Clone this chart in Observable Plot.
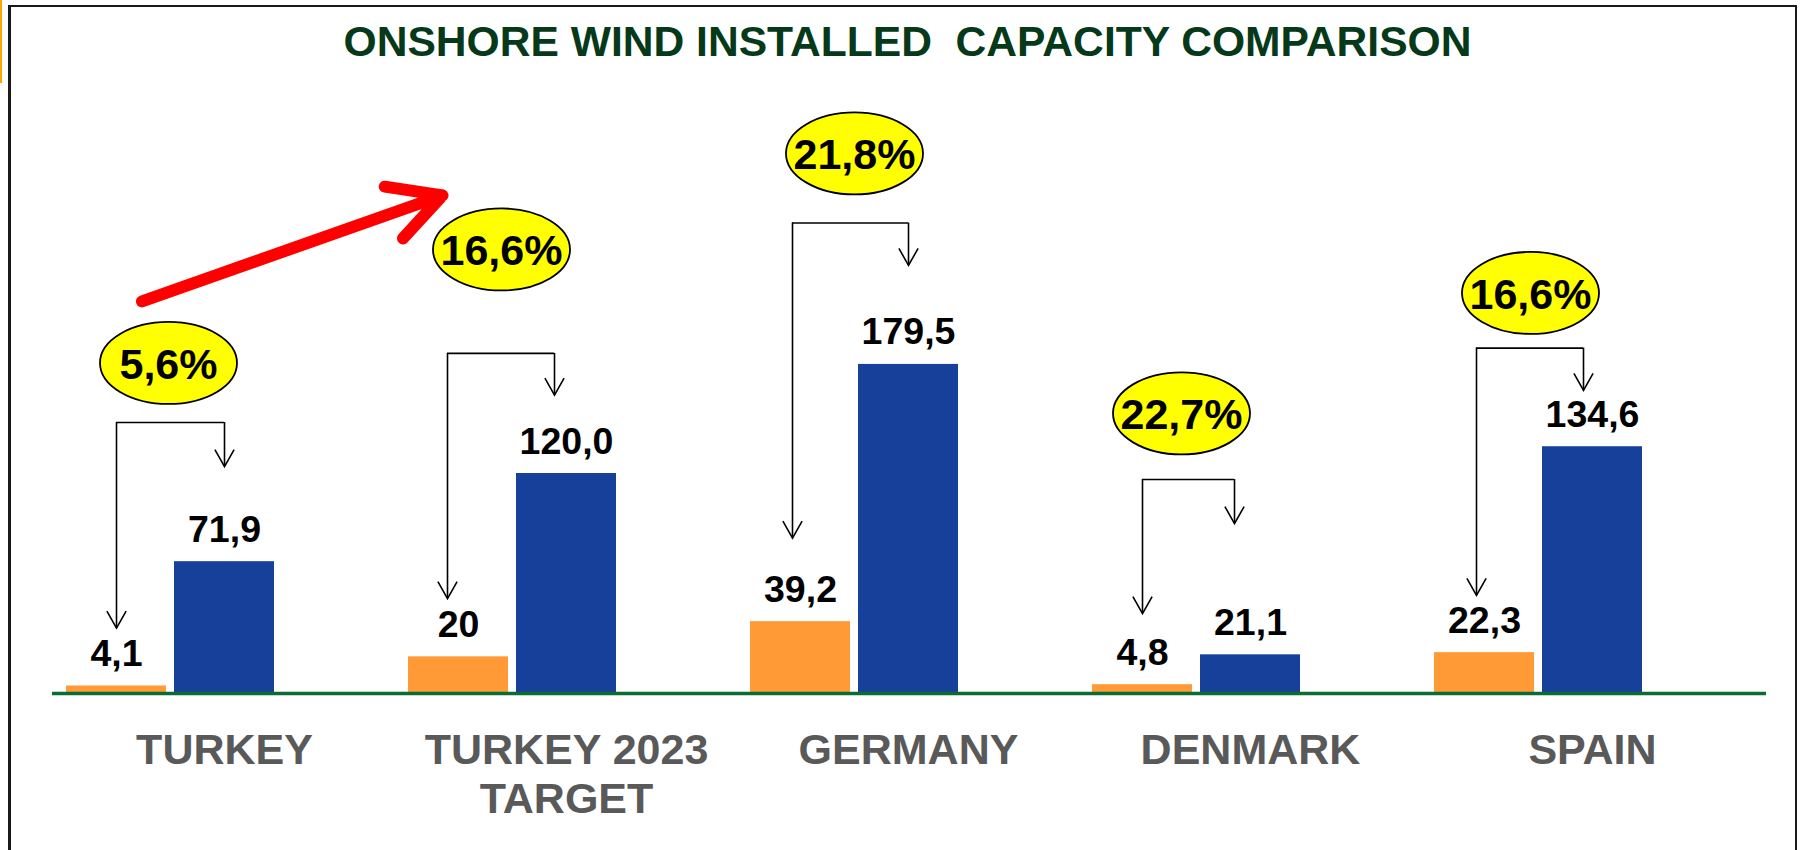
<!DOCTYPE html>
<html>
<head>
<meta charset="utf-8">
<script src="https://cdn.jsdelivr.net/npm/d3@7"></script>
<script src="https://cdn.jsdelivr.net/npm/@observablehq/plot@0.6"></script>
<style>
html, body { margin: 0; padding: 0; background: #fff; overflow: hidden; }
#wrap { position: relative; width: 1803px; height: 850px; background: #fff; font-family: "Liberation Sans", Arial, sans-serif; }
#title { height: 70px; box-sizing: border-box; padding-top: 16px; padding-left: 12px; line-height: 50px; text-align: center; font-size: 42.6px; font-weight: bold; color: #06391A; white-space: pre; }
#chart svg { display: block; }
.bd { position: absolute; background: #1a1a1a; z-index: 5; }
</style>
</head>
<body>
<div id="wrap">
  <div id="title">ONSHORE WIND INSTALLED  CAPACITY COMPARISON</div>
  <div id="chart"></div>
  <div class="bd" style="left:8px;top:5px;width:1789px;height:2px"></div>
  <div class="bd" style="left:8px;top:5px;width:3px;height:845px"></div>
  <div class="bd" style="left:1795px;top:5px;width:2px;height:845px"></div>
  <div style="position:absolute;left:0;top:0;width:2px;height:83px;background:#FFA500;z-index:5"></div>
</div>
<script>
// ---- data ----
const countries = ["TURKEY", "TURKEY 2023 TARGET", "GERMANY", "DENMARK", "SPAIN"];
const tickLabels = ["TURKEY", "TURKEY 2023\nTARGET", "GERMANY", "DENMARK", "SPAIN"];
const orangeValues = [4.1, 20, 39.2, 4.8, 22.3];
const blueValues = [71.9, 120.0, 179.5, 21.1, 134.6];
const orangeLabels = ["4,1", "20", "39,2", "4,8", "22,3"];
const blueLabels = ["71,9", "120,0", "179,5", "21,1", "134,6"];
const shareLabels = ["5,6%", "16,6%", "21,8%", "22,7%", "16,6%"];
// annotation levels, in value units
const bracketTop = [147.8, 185.5, 256.6, 116.7, 188.4];
const leftTip = [35.7, 51.8, 84.7, 43.6, 53.5];
const rightTip = [123.8, 162.8, 233.5, 92.7, 165.3];
const bubbleLevel = [180.3, 242.2, 294.6, 152.8, 218.5];
const trendFrom = ["TURKEY", 205.9];
const trendTo = ["TURKEY 2023 TARGET", 271.7];
// hand-placement nudges of the annotations (px)
const bubbleNudge = [-2, -11, 0, -15, -8];
const leftNudge = [0, -11, -8, 0, -8];
const rightNudge = [0, -12, 0, -16, -9];

// ---- tables ----
const orangeRows = countries.map((c, i) => ({country: c, value: orangeValues[i], label: orangeLabels[i]}));
const blueRows = countries.map((c, i) => ({country: c, value: blueValues[i], label: blueLabels[i]}));
const cats = countries.map((c, i) => ({country: c, label: tickLabels[i]}));
const ann = countries.map((c, i) => ({
  country: c, top: bracketTop[i], leftTip: leftTip[i], rightTip: rightTip[i],
  bubble: bubbleLevel[i], share: shareLabels[i]
}));
const trend = [{x1: trendFrom[0], y1: trendFrom[1], x2: trendTo[0], y2: trendTo[1]}];

const ORANGE = "#FF9A36", BLUE = "#17409A", GREEN = "#0B6B35", GRAY = "#595959";

const vHead = {draw(ctx) { ctx.moveTo(-9.6, -17); ctx.lineTo(0, 0); ctx.lineTo(9.6, -17); }};
const ellipse = {draw(ctx) {
  const rx = 68.5, ry = 41, k = 0.5523;
  ctx.moveTo(rx, 0);
  ctx.bezierCurveTo(rx, ry * k, rx * k, ry, 0, ry);
  ctx.bezierCurveTo(-rx * k, ry, -rx, ry * k, -rx, 0);
  ctx.bezierCurveTo(-rx, -ry * k, -rx * k, -ry, 0, -ry);
  ctx.bezierCurveTo(rx * k, -ry, rx, -ry * k, rx, 0);
  ctx.closePath();
}};

const bold = {fontWeight: "bold", fontFamily: "'Liberation Sans', Arial, sans-serif"};
const line = {stroke: "black", strokeWidth: 1.6};

function annotationMarks(i) {
  const row = [ann[i]];
  return [
    Plot.ruleX(row, {x: "country", y1: "top", y2: "leftTip", dx: -54 + leftNudge[i], ...line}),
    Plot.ruleX(row, {x: "country", y1: "top", y2: "rightTip", dx: 54 + rightNudge[i], ...line}),
    Plot.ruleY(row, {y: "top", x1: "country", x2: "country", insetLeft: 50 + leftNudge[i], insetRight: 50 - rightNudge[i], ...line}),
    Plot.dot(row, {x: "country", y: "leftTip", dx: -54 + leftNudge[i], symbol: vHead, r: 5, fill: "none", ...line}),
    Plot.dot(row, {x: "country", y: "rightTip", dx: 54 + rightNudge[i], symbol: vHead, r: 5, fill: "none", ...line}),
    Plot.dot(row, {x: "country", y: "bubble", dx: bubbleNudge[i], symbol: ellipse, r: 10, fill: "#FFFF00", stroke: "black", strokeWidth: 1.8}),
    Plot.text(row, {x: "country", y: "bubble", dx: bubbleNudge[i], text: "share", dy: 2, fontSize: 43, fill: "black", ...bold})
  ];
}

const chart = Plot.plot({
  width: 1803,
  height: 780,
  marginLeft: 52,
  marginRight: 37,
  marginTop: 40,
  marginBottom: 157,
  style: {background: "transparent", fontFamily: "'Liberation Sans', Arial, sans-serif"},
  x: {type: "band", domain: countries, paddingInner: 0.3929, paddingOuter: 0.198, align: 0.1, axis: null},
  y: {domain: [0, 318], axis: null},
  marks: [
    Plot.barY(orangeRows, {x: "country", y: "value", fill: ORANGE, insetRight: 108}),
    Plot.barY(blueRows, {x: "country", y: "value", fill: BLUE, insetLeft: 108}),
    Plot.ruleY([0], {stroke: GREEN, strokeWidth: 3.5}),
    Plot.text(orangeRows, {x: "country", y: "value", text: "label", dx: -54, dy: -32, fontSize: 37.5, fill: "black", ...bold}),
    Plot.text(blueRows, {x: "country", y: "value", text: "label", dx: 54, dy: -32, fontSize: 37.5, fill: "black", ...bold}),
    Plot.text(cats, {x: "country", text: "label", frameAnchor: "bottom", lineAnchor: "top", dx: 54, dy: 35.5, fontSize: 43, lineHeight: 1.14, fill: GRAY, ...bold}),
    ...countries.flatMap((c, i) => annotationMarks(i)),
    Plot.arrow(trend, {x1: "x1", y1: "y1", x2: "x2", y2: "y2", dx: -70, insetStart: 44, stroke: "#FF0000", strokeWidth: 12, headLength: 7.3, headAngle: 56})
  ]
});
document.getElementById("chart").appendChild(chart);
</script>
</body>
</html>
